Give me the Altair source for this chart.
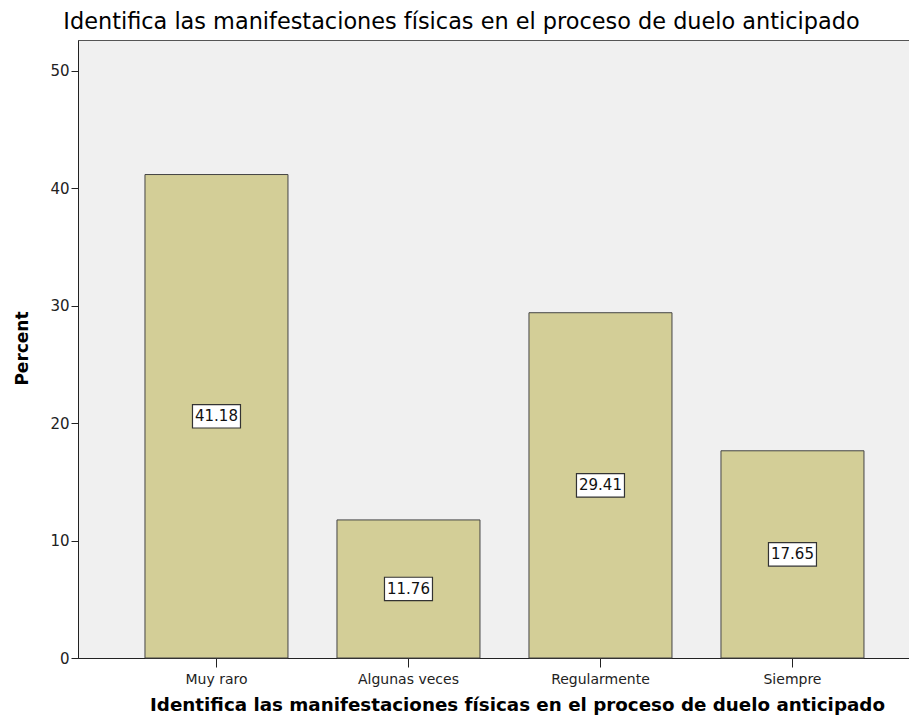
import altair as alt
import pandas as pd

categories = ["Muy raro", "Algunas veces", "Regularmente", "Siempre"]
percent = [41.18, 11.76, 29.41, 17.65]
title_text = "Identifica las manifestaciones físicas en el proceso de duelo anticipado"

df = pd.DataFrame({"cat": categories, "pct": percent})

FONT = "DejaVu Sans"
xscale = alt.Scale(domain=categories, paddingInner=0.2552, paddingOuter=0.2917, align=0.598)
yscale = alt.Scale(domain=[0, 52.64], nice=False, zero=True)

x_enc = alt.X(
    "cat:N", scale=xscale, sort=categories,
    axis=alt.Axis(
        title=title_text, labelAngle=0, labelFont=FONT, labelFontSize=14,
        labelColor="#222", tickSize=9, tickColor="#222", domainColor="#222",
        labelPadding=5, titleFont=FONT, titleFontSize=18.3, titleFontWeight="bold",
        titleColor="#000", titleX=439, titleY=47, titleBaseline="middle",
        titleAnchor="start", titleAlign="center",
    ),
)

base = alt.Chart(df)

bars = base.mark_bar(fill="#D3CE97", stroke="#444444", strokeWidth=1).encode(
    x=x_enc,
    y=alt.Y(
        "pct:Q", scale=yscale,
        axis=alt.Axis(
            title="Percent", values=[0, 10, 20, 30, 40, 50], grid=False,
            labelFont=FONT, labelFontSize=15, labelColor="#222", tickSize=7,
            tickColor="#222", domainColor="#222", labelPadding=2,
            titleFont=FONT, titleFontSize=17, titleFontWeight="bold",
            titleColor="#000", titleAngle=270, titleX=-56, titleY=308,
            titleBaseline="middle", titleAlign="center", titleAnchor="start",
        ),
    ),
)

boxes = base.transform_calculate(
    lo="datum.pct / 2 - 1.0", hi="datum.pct / 2 + 1.0"
).mark_bar(width=48, fill="white", stroke="#333333", strokeWidth=1.2).encode(
    x=alt.X("cat:N", scale=xscale, sort=categories),
    y=alt.Y("lo:Q", scale=yscale),
    y2="hi:Q",
)

labels = base.transform_calculate(mid="datum.pct / 2").mark_text(
    font=FONT, fontSize=15, color="#111", baseline="middle", align="center"
).encode(
    x=alt.X("cat:N", scale=xscale, sort=categories),
    y=alt.Y("mid:Q", scale=yscale),
    text=alt.Text("pct:Q", format=".2f"),
)

chart = alt.layer(bars, boxes, labels).properties(
    width=831, height=618,
    title=alt.TitleParams(
        text=title_text, font=FONT, fontSize=22.4, fontWeight="normal",
        color="#000", anchor="middle", dx=-32, dy=4, baseline="middle", offset=0,
    ),
    padding={"left": 70, "top": 32, "right": 0, "bottom": 59},
    autosize=alt.AutoSizeParams(type="none"),
    background="white",
).configure_view(
    fill="#F0F0F0", stroke="#555555", strokeWidth=1
)

chart.save("out.html", embed_options={"renderer": "svg", "actions": False})
